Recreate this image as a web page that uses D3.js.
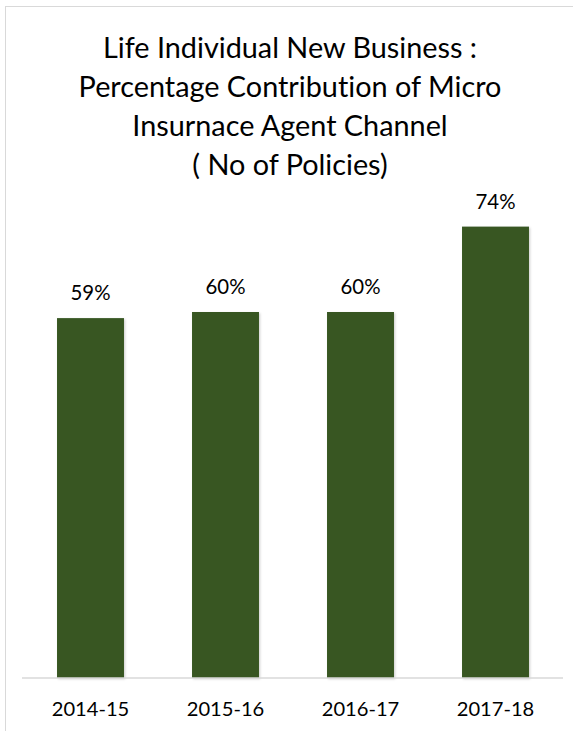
<!DOCTYPE html>
<html>
<head>
<meta charset="utf-8">
<script src="https://cdn.jsdelivr.net/npm/d3@7"></script>
<style>
  html, body { margin: 0; padding: 0; background: #ffffff; }
  svg { display: block; }
  text { font-family: Lato, "Open Sans", "Liberation Sans", sans-serif; fill: #000; font-variant-ligatures: none; font-feature-settings: "liga" 0; }
</style>
</head>
<body>
<script>
const categories = ["2014-15", "2015-16", "2016-17", "2017-18"];
const values = [59, 60, 60, 74];
const valueLabels = ["59%", "60%", "60%", "74%"];
const titleLines = [
  "Life Individual New Business :",
  "Percentage Contribution of Micro",
  "Insurnace Agent Channel",
  "( No of Policies)"
];
const yDomain = [0, 80];

const W = 573, H = 731;
const svg = d3.select("body").append("svg").attr("width", W).attr("height", H);

const defs = svg.append("defs");
const f = defs.append("filter").attr("id", "sh").attr("x", "-10%").attr("y", "-10%").attr("width", "130%").attr("height", "130%");
f.append("feDropShadow").attr("dx", 1.2).attr("dy", 1.2).attr("stdDeviation", 1).attr("flood-color", "#000").attr("flood-opacity", 0.18);

// chart border (extends beyond viewport on right/bottom)
svg.append("rect").attr("x", 5.5).attr("y", 6.5).attr("width", 700).attr("height", 900)
  .attr("fill", "#fff").attr("stroke", "#d9d9d9").attr("stroke-width", 1);

const x = d3.scaleBand().domain(categories).range([23, 563]).paddingInner(0.504).paddingOuter(0.252);
const y = d3.scaleLinear().domain(yDomain).range([678, 190]);

function fitSize(sel, targetWidth) {
  sel.attr("font-size", 100);
  const w = sel.node().getComputedTextLength();
  const s = 100 * targetWidth / w;
  sel.attr("font-size", s);
  return s;
}

// Title
const titleBaselines = [58.3, 96.7, 136, 175];
const tg = svg.append("g");
const tTexts = tg.selectAll("text").data(titleLines).join("text")
  .attr("x", 290).attr("y", (d, i) => titleBaselines[i]).attr("text-anchor", "middle").text(d => d);
const ts = fitSize(tTexts.filter((d, i) => i === 1), 423);
tTexts.attr("font-size", ts);

// Bars
svg.append("g").selectAll("rect").data(values).join("rect")
  .attr("x", (d, i) => x(categories[i]))
  .attr("width", x.bandwidth())
  .attr("y", d => y(d))
  .attr("height", d => y(0) - y(d))
  .attr("fill", "#385723")
  .attr("filter", "url(#sh)");

// Baseline axis
const axis = d3.axisBottom(x).tickSize(0).tickPadding(0);
const ag = svg.append("g").attr("transform", `translate(0,${y(0)})`).call(axis);
ag.select(".domain").attr("stroke", "#d9d9d9").attr("stroke-width", 1.3).attr("d", "M22,0H563");
ag.selectAll(".tick text").attr("dy", null).attr("y", 715.7 - y(0))
  .attr("font-family", 'Lato, "Open Sans", "Liberation Sans", sans-serif').attr("fill", "#000");
const xs = fitSize(ag.selectAll(".tick text").filter((d, i) => i === 0), 77.6);
ag.selectAll(".tick text").attr("font-size", xs);

// Value labels
const lbl = svg.append("g").selectAll("text").data(values).join("text")
  .attr("x", (d, i) => x(categories[i]) + x.bandwidth() / 2)
  .attr("y", d => y(d) - 18)
  .attr("text-anchor", "middle")
  .text((d, i) => valueLabels[i]);
const ls = fitSize(lbl.filter((d, i) => i === 3), 40);
lbl.attr("font-size", ls);
</script>
</body>
</html>
